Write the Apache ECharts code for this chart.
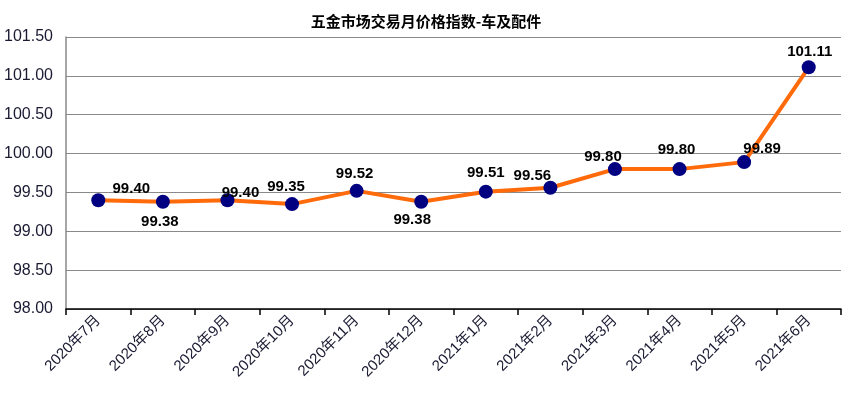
<!DOCTYPE html>
<html>
<head>
<meta charset="utf-8">
<script src="https://cdn.jsdelivr.net/npm/echarts@6/dist/echarts.min.js"></script>
<style>html,body{margin:0;padding:0;background:#fff}#c{width:850px;height:393px}</style>
</head>
<body>
<div id="c"></div>
<script>
const titleText = '五金市场交易月价格指数-车及配件';
const categories = ['2020年7月','2020年8月','2020年9月','2020年10月','2020年11月','2020年12月','2021年1月','2021年2月','2021年3月','2021年4月','2021年5月','2021年6月'];
const values = [99.40, 99.38, 99.40, 99.35, 99.52, 99.38, 99.51, 99.56, 99.80, 99.80, 99.89, 101.11];
const yMin = 98.0, yMax = 101.5, yStep = 0.5;
// label offsets (px) relative to point centre
const labelOffsets = [[33,-11],[-3,20],[13,-7],[-6,-17],[-2,-17],[-9,18],[0,-19],[-18,-12],[-12,-12],[-3,-19],[18,-13],[1,-15]];

const chart = echarts.init(document.getElementById('c'), null, {renderer:'canvas'});
chart.setOption({
  animation:false,
  backgroundColor:'#fff',
  title:{text:titleText,left:421,top:9,textAlign:'center',textStyle:{fontFamily:'"Noto Sans CJK SC"',fontSize:15,fontWeight:'bold',color:'#000'}},
  grid:{left:66,right:9,top:37,bottom:84},
  xAxis:{type:'category',data:categories,boundaryGap:true,
    axisLine:{lineStyle:{color:'#000',width:1.5}},
    axisTick:{show:true,length:6,lineStyle:{color:'#000',width:1.5}},
    axisLabel:{rotate:45,margin:9,fontFamily:'"Liberation Sans","Noto Sans CJK SC"',fontSize:15,color:'#1a1a33'}},
  yAxis:{type:'value',min:yMin,max:yMax,interval:yStep,
    axisLine:{show:true,lineStyle:{color:'#888',width:1.5}},
    axisTick:{show:false},
    splitLine:{lineStyle:{color:'#8a8a8a',width:1.2}},
    axisLabel:{margin:13,fontFamily:'"Liberation Sans"',fontSize:16,color:'#1a1a33',formatter:v=>v.toFixed(2)}},
  series:[{type:'line',
    data:values.map((v,i)=>({value:v,label:{offset:labelOffsets[i]}})),
    lineStyle:{color:'#FF6A0A',width:4},
    symbol:'circle',symbolSize:14,
    itemStyle:{color:'#000080'},
    label:{show:true,position:'inside',fontFamily:'"Liberation Sans"',fontSize:15,fontWeight:'bold',color:'#000',formatter:p=>p.value.toFixed(2)}
  }]
});
</script>
</body>
</html>
